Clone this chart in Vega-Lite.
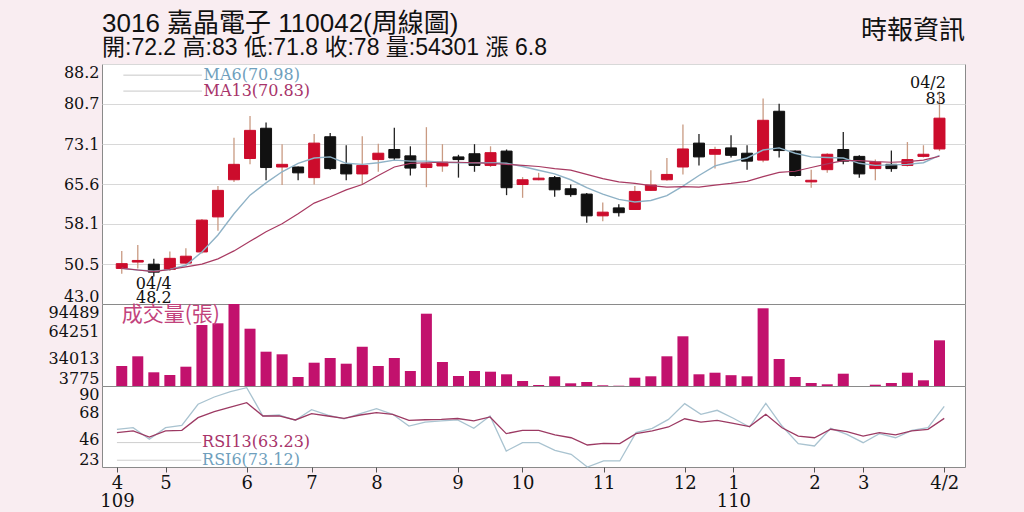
{
  "$schema": "https://vega.github.io/schema/vega-lite/v6.json",
  "background": "#f9edf1",
  "padding": {"left": 47, "top": 10, "right": 61, "bottom": 6},
  "title": {"text": "時報資訊", "anchor": "end", "frame": "group", "fontSize": 26, "font": "Noto Sans CJK TC", "fontWeight": "normal", "color": "#111111", "offset": -33},
  "spacing": 0,
  "bounds": "flush",
  "config": {
    "view": {"fill": "white", "stroke": "#8a8a8a", "strokeWidth": 1},
    "axis": {"labelFont": "DejaVu Serif", "labelFontSize": 16, "labelColor": "#111111", "domain": false, "ticks": false, "grid": false, "title": null, "labelOverlap": false, "labelBound": false, "labelPadding": 3}
  },
  "datasets": {
    "w": [
      {"i":0,"o":49.7,"h":53.0,"l":48.7,"c":50.6,"ma6":49.7,"ma13":49.7,"v":25900,"r6":54.2,"r13":51.4},
      {"i":1,"o":50.9,"h":54.1,"l":49.7,"c":51.2,"ma6":49.4,"ma13":49.4,"v":36630,"r6":55.5,"r13":52.8},
      {"i":2,"o":50.5,"h":51.5,"l":48.2,"c":49.0,"ma6":49.2,"ma13":49.1,"v":18930,"r6":45.9,"r13":47.8},
      {"i":3,"o":49.5,"h":52.9,"l":49.2,"c":51.6,"ma6":49.5,"ma13":49.5,"v":15940,"r6":55.5,"r13":52.8},
      {"i":4,"o":50.7,"h":53.5,"l":50.6,"c":52.0,"ma6":50.3,"ma13":50.0,"v":25130,"r6":57.5,"r13":53.3},
      {"i":5,"o":52.8,"h":59.0,"l":52.5,"c":58.8,"ma6":52.8,"ma13":50.5,"v":71260,"r6":74.9,"r13":63.8},
      {"i":6,"o":59.4,"h":65.2,"l":56.8,"c":64.4,"ma6":56.0,"ma13":51.5,"v":73140,"r6":80.9,"r13":68.8},
      {"i":7,"o":66.4,"h":74.3,"l":66.0,"c":69.3,"ma6":60.0,"ma13":53.0,"v":94489,"r6":85.3,"r13":72.6},
      {"i":8,"o":70.4,"h":78.4,"l":69.3,"c":75.7,"ma6":63.5,"ma13":54.8,"v":67160,"r6":88.6,"r13":76.2},
      {"i":9,"o":76.1,"h":77.2,"l":66.3,"c":68.7,"ma6":65.8,"ma13":56.6,"v":41730,"r6":65.2,"r13":65.2},
      {"i":10,"o":68.8,"h":73.1,"l":65.4,"c":69.3,"ma6":67.9,"ma13":58.1,"v":38840,"r6":66.0,"r13":65.2},
      {"i":11,"o":68.8,"h":68.9,"l":66.3,"c":67.7,"ma6":69.5,"ma13":60.0,"v":13730,"r6":61.6,"r13":61.9},
      {"i":12,"o":66.8,"h":75.0,"l":65.5,"c":73.3,"ma6":70.5,"ma13":62.0,"v":29550,"r6":70.4,"r13":67.1},
      {"i":13,"o":74.5,"h":75.2,"l":68.3,"c":68.5,"ma6":70.7,"ma13":63.2,"v":34750,"r6":66.0,"r13":65.2},
      {"i":14,"o":69.3,"h":72.9,"l":66.3,"c":67.5,"ma6":69.5,"ma13":64.5,"v":28450,"r6":62.9,"r13":63.3},
      {"i":15,"o":67.5,"h":74.6,"l":65.4,"c":69.1,"ma6":69.3,"ma13":65.5,"v":47250,"r6":67.1,"r13":66.0},
      {"i":16,"o":70.2,"h":73.2,"l":67.9,"c":71.4,"ma6":69.6,"ma13":67.2,"v":25900,"r6":71.2,"r13":67.9},
      {"i":17,"o":72.1,"h":76.2,"l":70.1,"c":70.5,"ma6":70.1,"ma13":68.8,"v":34750,"r6":66.6,"r13":66.6},
      {"i":18,"o":70.9,"h":72.7,"l":67.2,"c":68.6,"ma6":69.9,"ma13":69.5,"v":20370,"r6":56.9,"r13":61.6},
      {"i":19,"o":68.7,"h":76.3,"l":65.0,"c":69.4,"ma6":69.9,"ma13":69.6,"v":83760,"r6":60.2,"r13":62.1},
      {"i":20,"o":69.0,"h":73.1,"l":67.9,"c":69.7,"ma6":69.7,"ma13":69.7,"v":30320,"r6":61.1,"r13":62.4},
      {"i":21,"o":70.7,"h":71.1,"l":66.8,"c":70.2,"ma6":69.6,"ma13":69.7,"v":14840,"r6":62.0,"r13":63.1},
      {"i":22,"o":71.3,"h":73.1,"l":67.9,"c":69.1,"ma6":69.6,"ma13":69.6,"v":20370,"r6":55.0,"r13":61.1},
      {"i":23,"o":69.1,"h":72.7,"l":68.8,"c":71.5,"ma6":69.6,"ma13":69.5,"v":19600,"r6":65.2,"r13":64.4},
      {"i":24,"o":71.8,"h":72.1,"l":63.5,"c":64.9,"ma6":69.5,"ma13":69.3,"v":16720,"r6":36.2,"r13":50.6},
      {"i":25,"o":65.5,"h":66.9,"l":63.0,"c":66.4,"ma6":68.9,"ma13":69.1,"v":9310,"r6":43.1,"r13":53.3},
      {"i":26,"o":66.4,"h":67.7,"l":66.3,"c":66.7,"ma6":68.2,"ma13":68.9,"v":4880,"r6":43.1,"r13":53.3},
      {"i":27,"o":66.8,"h":67.1,"l":63.2,"c":64.5,"ma6":67.5,"ma13":68.5,"v":14510,"r6":36.8,"r13":49.5},
      {"i":28,"o":64.7,"h":65.5,"l":63.2,"c":63.6,"ma6":66.4,"ma13":68.2,"v":6760,"r6":33.5,"r13":47.2},
      {"i":29,"o":63.7,"h":63.9,"l":58.3,"c":59.6,"ma6":64.9,"ma13":67.4,"v":8200,"r6":23.0,"r13":41.2},
      {"i":30,"o":59.6,"h":62.1,"l":58.6,"c":60.3,"ma6":63.7,"ma13":66.6,"v":4550,"r6":28.0,"r13":42.6},
      {"i":31,"o":61.1,"h":61.8,"l":59.5,"c":60.2,"ma6":62.7,"ma13":66.0,"v":4100,"r6":28.0,"r13":42.3},
      {"i":32,"o":60.8,"h":65.2,"l":60.7,"c":64.2,"ma6":62.2,"ma13":65.7,"v":12960,"r6":51.4,"r13":50.6},
      {"i":33,"o":64.4,"h":68.2,"l":64.3,"c":65.4,"ma6":62.5,"ma13":65.3,"v":14510,"r6":55.0,"r13":52.8},
      {"i":34,"o":66.4,"h":70.5,"l":66.2,"c":67.4,"ma6":63.4,"ma13":65.0,"v":36630,"r6":62.4,"r13":56.1},
      {"i":35,"o":68.8,"h":76.8,"l":67.4,"c":72.2,"ma6":65.2,"ma13":65.1,"v":58760,"r6":75.4,"r13":62.9},
      {"i":36,"o":73.3,"h":75.0,"l":69.1,"c":70.7,"ma6":67.2,"ma13":65.0,"v":16720,"r6":66.6,"r13":60.2},
      {"i":37,"o":71.2,"h":72.6,"l":68.5,"c":72.1,"ma6":69.0,"ma13":65.4,"v":18490,"r6":69.9,"r13":61.6},
      {"i":38,"o":72.4,"h":74.8,"l":70.6,"c":71.0,"ma6":69.8,"ma13":65.7,"v":15740,"r6":63.3,"r13":59.1},
      {"i":39,"o":71.4,"h":72.9,"l":68.3,"c":69.9,"ma6":70.5,"ma13":66.1,"v":14510,"r6":56.1,"r13":56.4},
      {"i":40,"o":70.1,"h":81.7,"l":69.7,"c":77.6,"ma6":72.0,"ma13":67.0,"v":89740,"r6":75.7,"r13":66.6},
      {"i":41,"o":79.3,"h":80.7,"l":70.6,"c":71.9,"ma6":72.4,"ma13":67.8,"v":33650,"r6":56.9,"r13":55.5},
      {"i":42,"o":71.8,"h":71.9,"l":67.0,"c":67.2,"ma6":71.4,"ma13":68.0,"v":13730,"r6":42.3,"r13":48.6},
      {"i":43,"o":66.0,"h":68.3,"l":64.9,"c":66.3,"ma6":70.7,"ma13":68.7,"v":7090,"r6":40.4,"r13":47.2},
      {"i":44,"o":68.3,"h":71.4,"l":67.7,"c":71.2,"ma6":70.6,"ma13":69.4,"v":5660,"r6":55.0,"r13":54.2},
      {"i":45,"o":72.1,"h":75.4,"l":69.3,"c":69.9,"ma6":70.5,"ma13":70.0,"v":17380,"r6":50.0,"r13":52.2},
      {"i":46,"o":70.8,"h":71.0,"l":66.8,"c":67.5,"ma6":69.5,"ma13":70.0,"v":3775,"r6":43.1,"r13":48.6},
      {"i":47,"o":68.5,"h":70.2,"l":66.3,"c":69.7,"ma6":69.1,"ma13":69.8,"v":5220,"r6":50.6,"r13":51.4},
      {"i":48,"o":69.3,"h":71.9,"l":67.9,"c":68.5,"ma6":69.2,"ma13":69.7,"v":7090,"r6":47.2,"r13":49.5},
      {"i":49,"o":69.1,"h":73.5,"l":68.9,"c":70.2,"ma6":69.3,"ma13":69.8,"v":18490,"r6":53.3,"r13":52.8},
      {"i":50,"o":70.8,"h":72.9,"l":70.6,"c":71.2,"ma6":69.6,"ma13":70.1,"v":10080,"r6":55.5,"r13":54.2},
      {"i":51,"o":72.2,"h":83.0,"l":71.8,"c":78.0,"ma6":70.98,"ma13":70.83,"v":54301,"r6":73.12,"r13":63.23}
    ]
  },
  "vconcat": [
    {
      "width": 863,
      "height": 240,
      "title": {"text": "3016  嘉晶電子 110042(周線圖)", "subtitle": "開:72.2 高:83 低:71.8 收:78 量:54301 漲 6.8", "anchor": "start", "frame": "group", "font": "Liberation Sans, Noto Sans CJK TC", "fontSize": 26, "fontWeight": "normal", "color": "#111111", "subtitleFont": "Liberation Sans, Noto Sans CJK TC", "subtitleFontSize": 23, "subtitleColor": "#111111", "subtitlePadding": 0, "offset": 4},
      "data": {"name": "w"},
      "layer": [
        {
          "mark": {"type": "rule", "strokeWidth": 1.3},
          "encoding": {
            "x": {"field": "i", "type": "quantitative", "scale": {"domain": [-0.92, 52.28], "nice": false, "zero": false}, "axis": null},
            "y": {"field": "l", "type": "quantitative", "scale": {"domain": [43.0, 88.2], "nice": false, "zero": false}, "axis": {"values": [43.0, 50.5, 58.1, 65.6, 73.1, 80.7, 88.2], "tickCount": 30, "format": ".1f", "labelFlush": true, "labelOverlap": false, "grid": true, "gridColor": "#d8d8d8", "gridWidth": 1}},
            "y2": {"field": "h"},
            "color": {"condition": {"test": "datum.c >= datum.o", "value": "#c99a82"}, "value": "#222222"}
          }
        },
        {
          "mark": {"type": "bar", "size": 11, "strokeWidth": 1},
          "encoding": {
            "x": {"field": "i", "type": "quantitative"},
            "y": {"field": "o", "type": "quantitative"},
            "y2": {"field": "c"},
            "color": {"condition": {"test": "datum.c >= datum.o", "value": "#cc0c2c"}, "value": "#111111"},
            "stroke": {"condition": {"test": "datum.c >= datum.o", "value": "#cc0c2c"}, "value": "#111111"}
          }
        },
        {
          "mark": {"type": "line", "color": "#8fb2c6", "strokeWidth": 1.4},
          "encoding": {"x": {"field": "i", "type": "quantitative"}, "y": {"field": "ma6", "type": "quantitative"}}
        },
        {
          "mark": {"type": "line", "color": "#a83a62", "strokeWidth": 1.2},
          "encoding": {"x": {"field": "i", "type": "quantitative"}, "y": {"field": "ma13", "type": "quantitative"}}
        },
        {
          "data": {"values": [{}]},
          "mark": {"type": "rule", "color": "#c8c8c8", "strokeWidth": 1},
          "encoding": {"x": {"datum": 0.1}, "x2": {"datum": 5.0}, "y": {"datum": 86.1}}
        },
        {
          "data": {"values": [{}]},
          "mark": {"type": "rule", "color": "#c8c8c8", "strokeWidth": 1},
          "encoding": {"x": {"datum": 0.1}, "x2": {"datum": 5.0}, "y": {"datum": 83.1}}
        },
        {
          "data": {"values": [{}]},
          "mark": {"type": "text", "align": "left", "baseline": "middle", "font": "DejaVu Serif", "fontSize": 16, "color": "#6f9fbd"},
          "encoding": {"x": {"datum": 5.1}, "y": {"datum": 86.1}, "text": {"value": "MA6(70.98)"}}
        },
        {
          "data": {"values": [{}]},
          "mark": {"type": "text", "align": "left", "baseline": "middle", "font": "DejaVu Serif", "fontSize": 16, "color": "#a8346a"},
          "encoding": {"x": {"datum": 5.1}, "y": {"datum": 83.1}, "text": {"value": "MA13(70.83)"}}
        },
        {
          "data": {"values": [{}]},
          "mark": {"type": "text", "align": "center", "baseline": "top", "font": "DejaVu Serif", "fontSize": 16, "color": "#111111", "dy": 0, "lineHeight": 14},
          "encoding": {"x": {"datum": 2}, "y": {"datum": 48.2}, "text": {"value": ["04/4", "48.2"]}}
        },
        {
          "data": {"values": [{}]},
          "mark": {"type": "text", "align": "right", "baseline": "bottom", "font": "DejaVu Serif", "fontSize": 16, "color": "#111111", "dy": -1, "lineHeight": 16},
          "encoding": {"x": {"datum": 51.4}, "y": {"datum": 83.0}, "text": {"value": ["04/2", "83"]}}
        }
      ]
    },
    {
      "width": 863,
      "height": 82,
      "data": {"name": "w"},
      "layer": [
        {
          "mark": {"type": "bar", "size": 11, "color": "#c2116d"},
          "encoding": {
            "x": {"field": "i", "type": "quantitative", "scale": {"domain": [-0.92, 52.28], "nice": false, "zero": false}, "axis": null},
            "y": {"field": "v", "type": "quantitative", "scale": {"domain": [3775, 94489], "nice": false, "zero": false}, "axis": {"values": [3775, 34013, 64251, 94489], "tickCount": 30, "format": "d", "labelFlush": true, "labelOverlap": false}},
            "y2": {"datum": 3775}
          }
        },
        {
          "data": {"values": [{}]},
          "mark": {"type": "text", "align": "left", "baseline": "middle", "font": "Noto Sans CJK TC", "fontSize": 21, "color": "#c2437c"},
          "encoding": {"x": {"datum": 0.0}, "y": {"datum": 82300}, "text": {"value": "成交量(張)"}}
        }
      ]
    },
    {
      "width": 863,
      "height": 81,
      "data": {"name": "w"},
      "layer": [
        {
          "mark": {"type": "line", "color": "#a9c3d0", "strokeWidth": 1.3},
          "encoding": {
            "x": {"field": "i", "type": "quantitative", "scale": {"domain": [-0.92, 52.28], "nice": false, "zero": false}, "axis": {"values": [0, 3, 8, 12, 16, 21, 25, 30, 35, 38, 43, 46, 51], "tickCount": 60, "ticks": true, "tickSize": 5, "tickColor": "#555555", "labelFontSize": 18, "labelPadding": 2, "labelLineHeight": 18, "labelOverlap": false, "labelExpr": "datum.value==0?['4','109']:datum.value==3?'5':datum.value==8?'6':datum.value==12?'7':datum.value==16?'8':datum.value==21?'9':datum.value==25?'10':datum.value==30?'11':datum.value==35?'12':datum.value==38?['1','110']:datum.value==43?'2':datum.value==46?'3':'4/2'"}},
            "y": {"field": "r6", "type": "quantitative", "scale": {"domain": [23, 90], "nice": false, "zero": false}, "axis": {"values": [23, 46, 68, 90], "tickCount": 30, "labelFlush": true, "labelOverlap": false}}
          }
        },
        {
          "mark": {"type": "line", "color": "#9c3a63", "strokeWidth": 1.3},
          "encoding": {"x": {"field": "i", "type": "quantitative"}, "y": {"field": "r13", "type": "quantitative"}}
        },
        {
          "data": {"values": [{}]},
          "mark": {"type": "rule", "color": "#cfcfcf", "strokeWidth": 1},
          "encoding": {"x": {"datum": 0.0}, "x2": {"datum": 5.2}, "y": {"datum": 43.2}}
        },
        {
          "data": {"values": [{}]},
          "mark": {"type": "rule", "color": "#cfcfcf", "strokeWidth": 1},
          "encoding": {"x": {"datum": 0.0}, "x2": {"datum": 5.2}, "y": {"datum": 28.6}}
        },
        {
          "data": {"values": [{}]},
          "mark": {"type": "text", "align": "left", "baseline": "middle", "font": "DejaVu Serif", "fontSize": 16, "color": "#a8346a"},
          "encoding": {"x": {"datum": 5.25}, "y": {"datum": 43.7}, "text": {"value": "RSI13(63.23)"}}
        },
        {
          "data": {"values": [{}]},
          "mark": {"type": "text", "align": "left", "baseline": "middle", "font": "DejaVu Serif", "fontSize": 16, "color": "#6f9fbd"},
          "encoding": {"x": {"datum": 5.25}, "y": {"datum": 28.8}, "text": {"value": "RSI6(73.12)"}}
        }
      ]
    }
  ]
}
